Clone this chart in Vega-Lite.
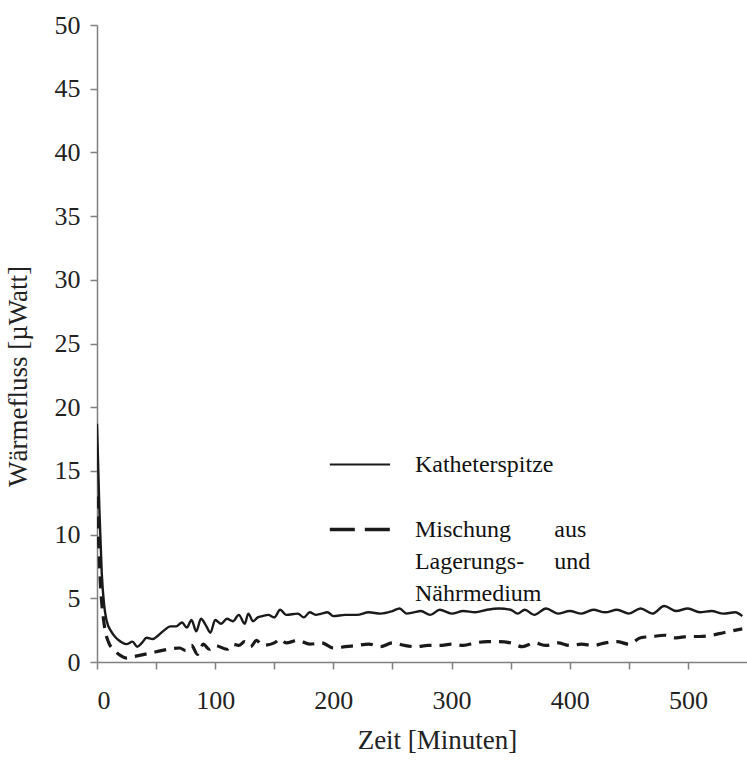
{
  "$schema": "https://vega.github.io/schema/vega-lite/v6.json",
  "width": 650,
  "height": 637,
  "autosize": {"type": "none"},
  "padding": {"left": 97, "top": 25, "right": 0, "bottom": 119},
  "background": "white",
  "config": {
    "view": {"stroke": null},
    "font": "Liberation Serif",
    "axis": {
      "grid": false,
      "domainColor": "#808080",
      "domainWidth": 1.5,
      "tickColor": "#808080",
      "tickWidth": 1.5,
      "tickSize": 7,
      "labelFont": "Liberation Serif",
      "labelFontSize": 26,
      "labelColor": "#222222",
      "titleFont": "Liberation Serif",
      "titleFontSize": 27,
      "titleFontWeight": "normal",
      "titleColor": "#222222"
    }
  },
  "datasets": {
    "lines": [
      {"s": "Katheterspitze", "t": 0, "v": 18.7},
      {"s": "Katheterspitze", "t": 2, "v": 12},
      {"s": "Katheterspitze", "t": 4, "v": 7},
      {"s": "Katheterspitze", "t": 6, "v": 4.5},
      {"s": "Katheterspitze", "t": 8, "v": 3.3},
      {"s": "Katheterspitze", "t": 12, "v": 2.4},
      {"s": "Katheterspitze", "t": 16, "v": 1.9},
      {"s": "Katheterspitze", "t": 20, "v": 1.6},
      {"s": "Katheterspitze", "t": 25, "v": 1.4},
      {"s": "Katheterspitze", "t": 30, "v": 1.6},
      {"s": "Katheterspitze", "t": 34, "v": 1.2},
      {"s": "Katheterspitze", "t": 38, "v": 1.5},
      {"s": "Katheterspitze", "t": 42, "v": 1.9},
      {"s": "Katheterspitze", "t": 47, "v": 1.8},
      {"s": "Katheterspitze", "t": 52, "v": 2.1},
      {"s": "Katheterspitze", "t": 57, "v": 2.5},
      {"s": "Katheterspitze", "t": 62, "v": 2.8},
      {"s": "Katheterspitze", "t": 67, "v": 2.8},
      {"s": "Katheterspitze", "t": 72, "v": 3.1},
      {"s": "Katheterspitze", "t": 76, "v": 2.7},
      {"s": "Katheterspitze", "t": 80, "v": 3.3},
      {"s": "Katheterspitze", "t": 84, "v": 2.4},
      {"s": "Katheterspitze", "t": 88, "v": 3.4},
      {"s": "Katheterspitze", "t": 92, "v": 2.9},
      {"s": "Katheterspitze", "t": 96, "v": 2.3},
      {"s": "Katheterspitze", "t": 100, "v": 3.3},
      {"s": "Katheterspitze", "t": 105, "v": 3.0},
      {"s": "Katheterspitze", "t": 110, "v": 3.4},
      {"s": "Katheterspitze", "t": 115, "v": 3.2},
      {"s": "Katheterspitze", "t": 120, "v": 3.7},
      {"s": "Katheterspitze", "t": 125, "v": 3.0},
      {"s": "Katheterspitze", "t": 128, "v": 3.8},
      {"s": "Katheterspitze", "t": 132, "v": 3.2},
      {"s": "Katheterspitze", "t": 136, "v": 3.5},
      {"s": "Katheterspitze", "t": 140, "v": 3.6},
      {"s": "Katheterspitze", "t": 145, "v": 3.7},
      {"s": "Katheterspitze", "t": 150, "v": 3.5},
      {"s": "Katheterspitze", "t": 155, "v": 4.1},
      {"s": "Katheterspitze", "t": 160, "v": 3.7},
      {"s": "Katheterspitze", "t": 170, "v": 3.8},
      {"s": "Katheterspitze", "t": 175, "v": 3.5},
      {"s": "Katheterspitze", "t": 180, "v": 3.9},
      {"s": "Katheterspitze", "t": 185, "v": 3.7},
      {"s": "Katheterspitze", "t": 190, "v": 3.8},
      {"s": "Katheterspitze", "t": 195, "v": 3.9},
      {"s": "Katheterspitze", "t": 200, "v": 3.6},
      {"s": "Katheterspitze", "t": 210, "v": 3.7},
      {"s": "Katheterspitze", "t": 220, "v": 3.7},
      {"s": "Katheterspitze", "t": 230, "v": 3.9},
      {"s": "Katheterspitze", "t": 240, "v": 3.8},
      {"s": "Katheterspitze", "t": 250, "v": 4.0},
      {"s": "Katheterspitze", "t": 256, "v": 4.2},
      {"s": "Katheterspitze", "t": 262, "v": 3.8},
      {"s": "Katheterspitze", "t": 268, "v": 3.9},
      {"s": "Katheterspitze", "t": 274, "v": 4.0},
      {"s": "Katheterspitze", "t": 282, "v": 3.7},
      {"s": "Katheterspitze", "t": 290, "v": 4.1},
      {"s": "Katheterspitze", "t": 300, "v": 3.8},
      {"s": "Katheterspitze", "t": 310, "v": 4.0},
      {"s": "Katheterspitze", "t": 320, "v": 3.9},
      {"s": "Katheterspitze", "t": 330, "v": 4.1},
      {"s": "Katheterspitze", "t": 340, "v": 4.2},
      {"s": "Katheterspitze", "t": 350, "v": 4.1},
      {"s": "Katheterspitze", "t": 356, "v": 3.8},
      {"s": "Katheterspitze", "t": 362, "v": 4.1},
      {"s": "Katheterspitze", "t": 370, "v": 3.7},
      {"s": "Katheterspitze", "t": 380, "v": 4.2},
      {"s": "Katheterspitze", "t": 390, "v": 3.8},
      {"s": "Katheterspitze", "t": 400, "v": 4.0},
      {"s": "Katheterspitze", "t": 410, "v": 3.8},
      {"s": "Katheterspitze", "t": 420, "v": 4.1},
      {"s": "Katheterspitze", "t": 430, "v": 3.9},
      {"s": "Katheterspitze", "t": 440, "v": 4.1},
      {"s": "Katheterspitze", "t": 450, "v": 3.8},
      {"s": "Katheterspitze", "t": 460, "v": 4.2},
      {"s": "Katheterspitze", "t": 470, "v": 3.8},
      {"s": "Katheterspitze", "t": 480, "v": 4.4},
      {"s": "Katheterspitze", "t": 490, "v": 4.0},
      {"s": "Katheterspitze", "t": 500, "v": 4.2},
      {"s": "Katheterspitze", "t": 510, "v": 3.9},
      {"s": "Katheterspitze", "t": 520, "v": 4.0},
      {"s": "Katheterspitze", "t": 530, "v": 3.8},
      {"s": "Katheterspitze", "t": 540, "v": 3.9},
      {"s": "Katheterspitze", "t": 546, "v": 3.6},
      {"s": "Mischung", "t": 0, "v": 13},
      {"s": "Mischung", "t": 3, "v": 6},
      {"s": "Mischung", "t": 6, "v": 3},
      {"s": "Mischung", "t": 10, "v": 1.5},
      {"s": "Mischung", "t": 14, "v": 1.0},
      {"s": "Mischung", "t": 20, "v": 0.5},
      {"s": "Mischung", "t": 25, "v": 0.3},
      {"s": "Mischung", "t": 30, "v": 0.4},
      {"s": "Mischung", "t": 35, "v": 0.5},
      {"s": "Mischung", "t": 40, "v": 0.6},
      {"s": "Mischung", "t": 50, "v": 0.8},
      {"s": "Mischung", "t": 60, "v": 1.0},
      {"s": "Mischung", "t": 70, "v": 1.1},
      {"s": "Mischung", "t": 75, "v": 0.9},
      {"s": "Mischung", "t": 80, "v": 1.3},
      {"s": "Mischung", "t": 85, "v": 0.6},
      {"s": "Mischung", "t": 90, "v": 1.4},
      {"s": "Mischung", "t": 95, "v": 1.0},
      {"s": "Mischung", "t": 100, "v": 1.3},
      {"s": "Mischung", "t": 110, "v": 1.0},
      {"s": "Mischung", "t": 115, "v": 1.4},
      {"s": "Mischung", "t": 120, "v": 1.3},
      {"s": "Mischung", "t": 125, "v": 1.6},
      {"s": "Mischung", "t": 130, "v": 1.2},
      {"s": "Mischung", "t": 135, "v": 1.7},
      {"s": "Mischung", "t": 140, "v": 1.3},
      {"s": "Mischung", "t": 150, "v": 1.5},
      {"s": "Mischung", "t": 155, "v": 1.8},
      {"s": "Mischung", "t": 160, "v": 1.5},
      {"s": "Mischung", "t": 170, "v": 1.7},
      {"s": "Mischung", "t": 180, "v": 1.4},
      {"s": "Mischung", "t": 190, "v": 1.5},
      {"s": "Mischung", "t": 200, "v": 1.1},
      {"s": "Mischung", "t": 210, "v": 1.2},
      {"s": "Mischung", "t": 220, "v": 1.3},
      {"s": "Mischung", "t": 230, "v": 1.4},
      {"s": "Mischung", "t": 240, "v": 1.2},
      {"s": "Mischung", "t": 250, "v": 1.5},
      {"s": "Mischung", "t": 260, "v": 1.3},
      {"s": "Mischung", "t": 270, "v": 1.2},
      {"s": "Mischung", "t": 280, "v": 1.3},
      {"s": "Mischung", "t": 290, "v": 1.3},
      {"s": "Mischung", "t": 300, "v": 1.4},
      {"s": "Mischung", "t": 310, "v": 1.3},
      {"s": "Mischung", "t": 320, "v": 1.5},
      {"s": "Mischung", "t": 330, "v": 1.6},
      {"s": "Mischung", "t": 340, "v": 1.6},
      {"s": "Mischung", "t": 350, "v": 1.5},
      {"s": "Mischung", "t": 360, "v": 1.2},
      {"s": "Mischung", "t": 370, "v": 1.5},
      {"s": "Mischung", "t": 380, "v": 1.3},
      {"s": "Mischung", "t": 390, "v": 1.5},
      {"s": "Mischung", "t": 400, "v": 1.3},
      {"s": "Mischung", "t": 410, "v": 1.4},
      {"s": "Mischung", "t": 420, "v": 1.3},
      {"s": "Mischung", "t": 430, "v": 1.5},
      {"s": "Mischung", "t": 440, "v": 1.6},
      {"s": "Mischung", "t": 450, "v": 1.4},
      {"s": "Mischung", "t": 460, "v": 1.9},
      {"s": "Mischung", "t": 470, "v": 2.0},
      {"s": "Mischung", "t": 480, "v": 2.1},
      {"s": "Mischung", "t": 490, "v": 1.9},
      {"s": "Mischung", "t": 500, "v": 2.0},
      {"s": "Mischung", "t": 510, "v": 2.0},
      {"s": "Mischung", "t": 520, "v": 2.1},
      {"s": "Mischung", "t": 530, "v": 2.3},
      {"s": "Mischung", "t": 546, "v": 2.6}
    ],
    "legendLines": [
      {"s": "Katheterspitze", "x1": 197, "x2": 248, "y": 15.5},
      {"s": "Mischung", "x1": 197, "x2": 248, "y": 10.4}
    ],
    "legendText": [
      {"label": "Katheterspitze", "x": 269, "y": 15.5},
      {"label": "Mischung", "x": 269, "y": 10.4},
      {"label": "aus", "x": 387, "y": 10.4},
      {"label": "Lagerungs-", "x": 269, "y": 7.85},
      {"label": "und", "x": 387, "y": 7.85},
      {"label": "Nährmedium", "x": 269, "y": 5.3}
    ]
  },
  "layer": [
    {
      "data": {"name": "lines"},
      "transform": [{"filter": "datum.s == 'Katheterspitze'"}],
      "mark": {"type": "line", "color": "#1a1a1a", "strokeWidth": 2.4, "clip": true, "interpolate": "monotone"},
      "encoding": {
        "x": {
          "field": "t", "type": "quantitative",
          "scale": {"domain": [0, 550], "nice": false},
          "axis": {
            "title": "Zeit [Minuten]",
            "values": [0, 50, 100, 150, 200, 250, 300, 350, 400, 450, 500],
            "labelExpr": "datum.value % 100 == 0 ? datum.label : ''",
            "labelPadding": 18,
            "titlePadding": 14,
            "titleX": 340
          }
        },
        "y": {
          "field": "v", "type": "quantitative",
          "scale": {"domain": [0, 50], "nice": false},
          "axis": {
            "title": "Wärmefluss [µWatt]",
            "values": [0, 5, 10, 15, 20, 25, 30, 35, 40, 45, 50],
            "labelPadding": 10,
            "titlePadding": 22,
            "titleY": 351
          }
        }
      }
    },
    {
      "data": {"name": "lines"},
      "transform": [{"filter": "datum.s == 'Mischung'"}],
      "mark": {"type": "line", "color": "#1a1a1a", "strokeWidth": 3.2, "strokeDash": [12, 8], "clip": true, "interpolate": "monotone"},
      "encoding": {
        "x": {"field": "t", "type": "quantitative"},
        "y": {"field": "v", "type": "quantitative"}
      }
    },
    {
      "data": {"name": "legendLines"},
      "mark": {"type": "rule", "color": "#1a1a1a"},
      "encoding": {
        "x": {"field": "x1", "type": "quantitative"},
        "x2": {"field": "x2"},
        "y": {"field": "y", "type": "quantitative"},
        "strokeDash": {
          "field": "s", "type": "nominal",
          "scale": {"domain": ["Katheterspitze", "Mischung"], "range": [[1, 0], [25, 10]]},
          "legend": null
        },
        "strokeWidth": {
          "field": "s", "type": "nominal",
          "scale": {"domain": ["Katheterspitze", "Mischung"], "range": [2, 3.5]},
          "legend": null
        }
      }
    },
    {
      "data": {"name": "legendText"},
      "mark": {"type": "text", "align": "left", "baseline": "middle", "font": "Liberation Serif", "fontSize": 24, "color": "#111111"},
      "encoding": {
        "x": {"field": "x", "type": "quantitative"},
        "y": {"field": "y", "type": "quantitative"},
        "text": {"field": "label"}
      }
    }
  ]
}
